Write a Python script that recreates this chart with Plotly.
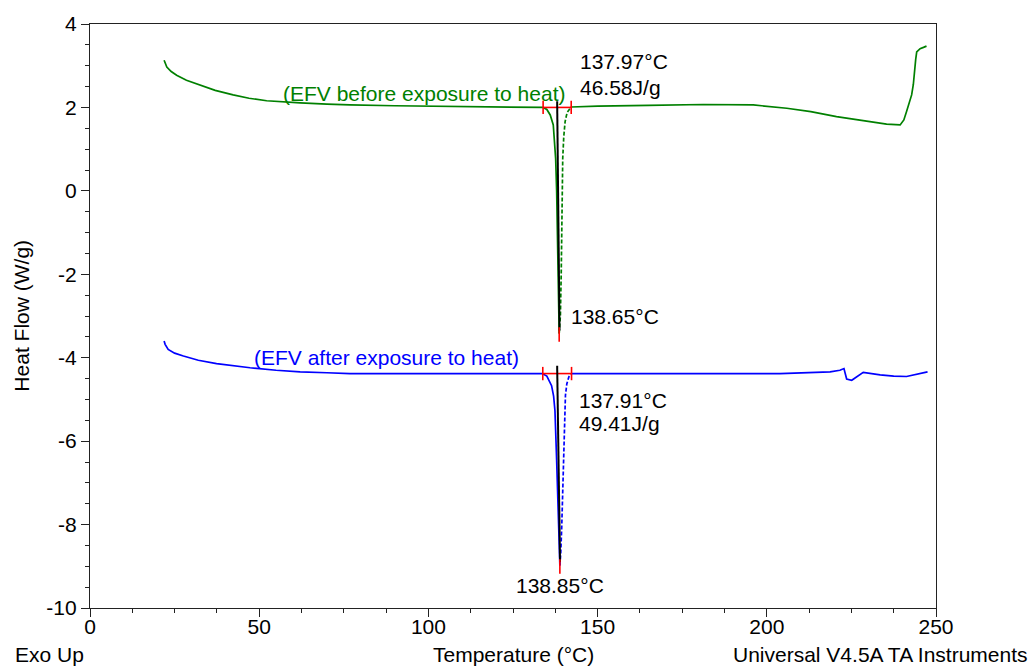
import plotly.graph_objects as go

# DSC heat-flow curves (Temperature in °C, Heat Flow in W/g)
before_temp = [21.9, 22.3, 22.7, 24.0, 25.6, 28.5, 32.5, 37.0, 42.3, 47.0, 52.2, 57.0, 62.1,
               70.0, 76.8, 90.0, 106.4, 120.0, 130.0, 133.9, 135.0, 136.0, 136.9, 137.3,
               137.6, 137.9, 138.1, 138.4, 138.65,
               139.0, 139.25, 139.4, 139.7, 140.0, 140.4, 141.0, 141.8, 142.2,
               150.0, 165.0, 181.2, 196.0, 205.9, 213.0, 220.6, 228.0, 235.4, 239.4,
               240.5, 241.3, 242.1, 242.8, 243.3, 243.6, 244.0, 244.3, 245.3, 246.3, 247.2]
before_flow = [3.13, 3.04, 2.97, 2.86, 2.77, 2.65, 2.54, 2.41, 2.30, 2.22, 2.16, 2.13, 2.11,
               2.08, 2.06, 2.04, 2.03, 2.02, 2.01, 2.00, 1.95, 1.82, 1.58, 1.20,
               0.78, 0.00, -0.80, -2.00, -3.42,
               -3.00, -2.00, -0.80, 0.78, 1.30, 1.66, 1.88, 1.98, 2.01,
               2.03, 2.05, 2.07, 2.06, 1.98, 1.90, 1.78, 1.69, 1.60, 1.58,
               1.70, 1.90, 2.10, 2.30, 2.55, 2.85, 3.15, 3.33, 3.41, 3.44, 3.47]

after_temp = [21.9, 22.2, 23.1, 25.0, 27.6, 32.0, 37.4, 42.0, 47.3, 55.0, 62.1, 70.0, 76.8,
              104.3, 120.0, 133.6, 135.0, 136.4, 137.0, 137.4, 137.9, 138.4, 138.85,
              139.1, 139.4, 139.9, 140.2, 140.5, 140.9, 141.5, 142.3,
              160.0, 185.0, 203.9, 218.7, 221.6, 222.8, 223.2, 223.6, 225.1, 227.1, 228.5,
              233.5, 237.5, 241.3, 245.3, 247.5]
after_flow = [-3.60, -3.68, -3.80, -3.89, -3.96, -4.06, -4.14, -4.19, -4.24, -4.30, -4.34, -4.36, -4.38,
              -4.38, -4.38, -4.38, -4.44, -4.67, -4.92, -5.27, -6.46, -8.06, -8.98,
              -8.70, -8.06, -6.46, -5.27, -4.90, -4.63, -4.46, -4.38,
              -4.38, -4.38, -4.38, -4.34, -4.30, -4.26, -4.38, -4.51, -4.54, -4.43, -4.35,
              -4.41, -4.44, -4.45, -4.39, -4.34]

# Peak integration limits, onset construction and peak markers
before_limits_x = [133.9, 142.2]
before_limits_y = [2.00, 2.00]
before_onset_x = [138.05, 138.75]
before_onset_y = [2.15, -3.35]
before_peak = (138.65, -3.42)

after_limits_x = [133.8, 142.3]
after_limits_y = [-4.38, -4.38]
after_onset_x = [138.05, 138.9]
after_onset_y = [-4.19, -8.90]
after_peak = (138.85, -8.98)

before_onset_label = ["137.97°C", "46.58J/g"]
before_peak_label = "138.65°C"
after_onset_label = ["137.91°C", "49.41J/g"]
after_peak_label = "138.85°C"

x_ticks = [0, 50, 100, 150, 200, 250]
x_tick_labels = ["0", "50", "100", "150", "200", "250"]
y_ticks = [-10, -8, -6, -4, -2, 0, 2, 4]
y_tick_labels = ["-10", "-8", "-6", "-4", "-2", "0", "2", "4"]

GREEN = "#008000"
BLUE = "#0000FF"
RED = "#FF0000"
FONT = "Liberation Sans, Arial, sans-serif"
FS = 21

fig = go.Figure()


def split_curve(xs, ys, peak_x, end_x):
    """Split a curve into the solid part and the dashed return from the peak."""
    i0 = xs.index(peak_x)
    i1 = xs.index(end_x)
    solid1 = (xs[:i0 + 1], ys[:i0 + 1])
    dashed = (xs[i0:i1 + 1], ys[i0:i1 + 1])
    solid2 = (xs[i1:], ys[i1:])
    return solid1, dashed, solid2


def add_curve(xs, ys, peak_x, end_x, color):
    s1, d, s2 = split_curve(xs, ys, peak_x, end_x)
    for (cx, cy), dash in ((s1, "solid"), (d, "4px,2px"), (s2, "solid")):
        fig.add_trace(go.Scatter(x=cx, y=cy, mode="lines",
                                 line=dict(color=color, width=1.7, dash=dash),
                                 hoverinfo="skip", showlegend=False))


def add_markers(lim_x, lim_y, onset_x, onset_y, peak):
    # horizontal integration line
    fig.add_trace(go.Scatter(x=lim_x, y=lim_y, mode="lines",
                             line=dict(color=RED, width=1.6), showlegend=False,
                             hoverinfo="skip"))
    # end ticks
    for xv, yv in zip(lim_x, lim_y):
        fig.add_trace(go.Scatter(x=[xv, xv], y=[yv + 0.16, yv - 0.16], mode="lines",
                                 line=dict(color=RED, width=1.6), showlegend=False,
                                 hoverinfo="skip"))
    # onset construction line
    fig.add_trace(go.Scatter(x=onset_x, y=onset_y, mode="lines",
                             line=dict(color="black", width=2), showlegend=False,
                             hoverinfo="skip"))
    # peak tick
    px, py = peak
    fig.add_trace(go.Scatter(x=[px, px], y=[py + 0.15, py - 0.2], mode="lines",
                             line=dict(color=RED, width=1.6), showlegend=False,
                             hoverinfo="skip"))


add_curve(before_temp, before_flow, 138.65, 142.2, GREEN)
add_curve(after_temp, after_flow, 138.85, 142.3, BLUE)
add_markers(before_limits_x, before_limits_y, before_onset_x, before_onset_y, before_peak)
add_markers(after_limits_x, after_limits_y, after_onset_x, after_onset_y, after_peak)

annotations = [
    dict(x=98.8, y=2.33, text="(EFV before exposure to heat)", font=dict(color=GREEN),
         xanchor="center", yanchor="middle"),
    dict(x=144.2, y=3.09, text=before_onset_label[0], xanchor="left", yanchor="middle"),
    dict(x=144.2, y=2.47, text=before_onset_label[1], xanchor="left", yanchor="middle"),
    dict(x=141.6, y=-3.0, text=before_peak_label, xanchor="left", yanchor="middle"),
    dict(x=87.6, y=-4.0, text="(EFV after exposure to heat)", font=dict(color=BLUE),
         xanchor="center", yanchor="middle"),
    dict(x=143.9, y=-5.03, text=after_onset_label[0], xanchor="left", yanchor="middle"),
    dict(x=143.9, y=-5.58, text=after_onset_label[1], xanchor="left", yanchor="middle"),
    dict(x=138.9, y=-9.45, text=after_peak_label, xanchor="center", yanchor="middle"),
]
for a in annotations:
    font = dict(family=FONT, size=FS, color="black")
    font.update(a.pop("font", {}))
    fig.add_annotation(showarrow=False, xref="x", yref="y", font=font, **a)

# footer texts below the plot
for text, x, anchor in (("Exo Up", -0.091, "left"),
                        ("Temperature (°C)", 0.5, "center"),
                        ("Universal V4.5A TA Instruments", 1.111, "right")):
    fig.add_annotation(text=text, x=x, y=-0.080, xref="paper", yref="paper",
                       xanchor=anchor, yanchor="middle", showarrow=False,
                       font=dict(family=FONT, size=FS, color="black"))

fig.add_annotation(text="Heat Flow (W/g)", x=-0.082, y=0.5, xref="paper", yref="paper",
                   textangle=-90, xanchor="center", yanchor="middle", showarrow=False,
                   font=dict(family=FONT, size=FS, color="black"))

axis_common = dict(showline=True, linecolor="#222", linewidth=1.2, mirror=True,
                   ticks="outside", tickcolor="#222", tickwidth=1.2, ticklen=8,
                   showgrid=False, zeroline=False, tickmode="array",
                   tickfont=dict(family=FONT, size=FS, color="black"))

fig.update_xaxes(range=[0, 250], tickvals=x_ticks, ticktext=x_tick_labels,
                 ticklabelstandoff=-8,
                 minor=dict(ticks="outside", tickvals=[v * 12.5 for v in range(21)],
                            ticklen=4, tickcolor="#222", tickwidth=1.2, showgrid=False),
                 **axis_common)
fig.update_yaxes(range=[-10, 4], tickvals=y_ticks, ticktext=y_tick_labels,
                 minor=dict(ticks="outside", tickvals=[-10 + v * 0.5 for v in range(29)],
                            ticklen=4, tickcolor="#222", tickwidth=1.2, showgrid=False),
                 **axis_common)

fig.update_layout(width=1032, height=666, plot_bgcolor="white", paper_bgcolor="white",
                  margin=dict(l=90, r=96, t=22, b=58), showlegend=False)

fig.write_html("out.html")
